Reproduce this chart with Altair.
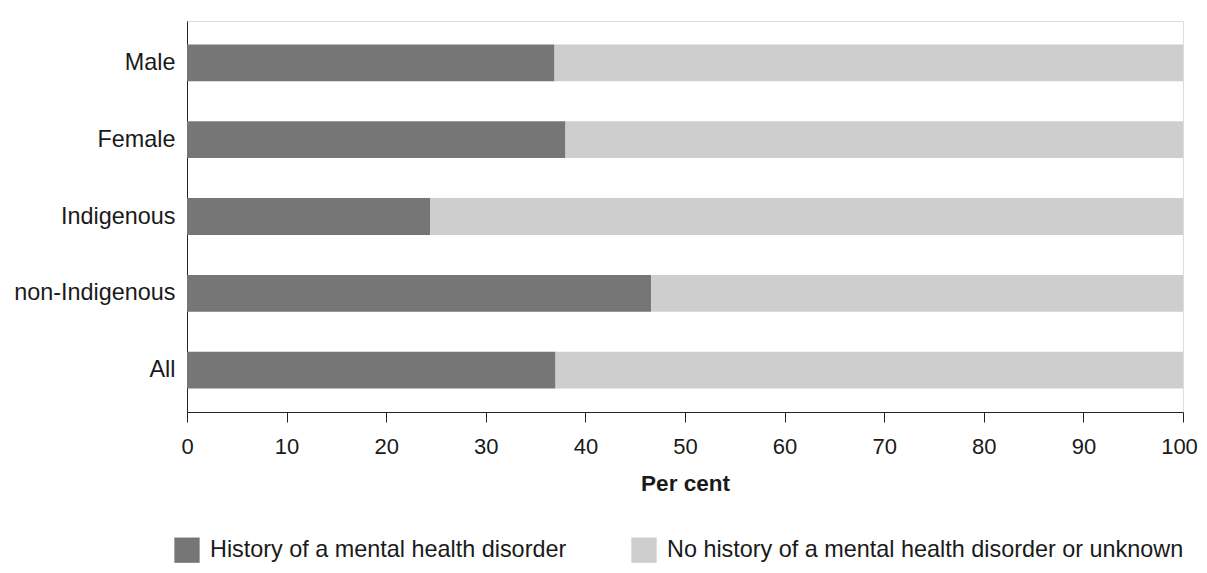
import altair as alt
import pandas as pd

categories = ["Male", "Female", "Indigenous", "non-Indigenous", "All"]
history = [36.9, 38.0, 24.4, 46.6, 37.0]
no_history = [63.1, 62.0, 75.6, 53.4, 63.0]
series_names = ["History of a mental health disorder",
                "No history of a mental health disorder or unknown"]
series_colors = ["#767676", "#cecece"]
x_ticks = [0, 10, 20, 30, 40, 50, 60, 70, 80, 90, 100]

rows = []
for c, h, n in zip(categories, history, no_history):
    rows.append({"cat": c, "series": series_names[0], "value": h, "ord": 0})
    rows.append({"cat": c, "series": series_names[1], "value": n, "ord": 1})
df = pd.DataFrame(rows)

FONT = "Liberation Sans"

chart = alt.Chart(df).mark_bar().encode(
    y=alt.Y("cat:N", sort=categories, title=None,
            scale=alt.Scale(paddingInner=0.52, paddingOuter=0.305),
            axis=alt.Axis(ticks=False, labelPadding=12, labelFontSize=23.4,
                          labelColor="#1a1a1a", domainColor="#222222",
                          labelFont=FONT, labelLimit=1000)),
    x=alt.X("value:Q", stack="zero", title="Per cent",
            scale=alt.Scale(domain=[0, 100], nice=False),
            axis=alt.Axis(values=x_ticks, grid=False, tickSize=10,
                          tickColor="#222222", domainColor="#222222",
                          labelFontSize=22, labelColor="#1a1a1a", labelFont=FONT,
                          labelPadding=14,
                          labelOffset={"condition": {"test": "datum.value == 100", "value": -4}, "value": 0},
                          titleFontSize=22.5, titleFont=FONT,
                          titleFontWeight="bold", titleColor="#1a1a1a",
                          titlePadding=15, labelFlush=False)),
    color=alt.Color("series:N", sort=series_names,
                    scale=alt.Scale(domain=series_names, range=series_colors),
                    legend=alt.Legend(orient="none", legendX=-13, legendY=516,
                                      direction="horizontal", title=None,
                                      symbolType="square", symbolSize=640,
                                      symbolStrokeWidth=0, symbolOpacity=1,
                                      labelFontSize=23.4, labelFont=FONT,
                                      labelColor="#1a1a1a", labelOffset=10,
                                      columnPadding=64, padding=0,
                                      labelLimit=1000)),
    order=alt.Order("ord:Q"),
).properties(
    width=996, height=391,
    autosize=alt.AutoSizeParams(type="none"),
    padding={"left": 179, "top": 13, "right": 16, "bottom": 151},
).configure_view(stroke=None).configure(font=FONT)

chart.save("out.html", embed_options={"renderer": "svg", "actions": False})
